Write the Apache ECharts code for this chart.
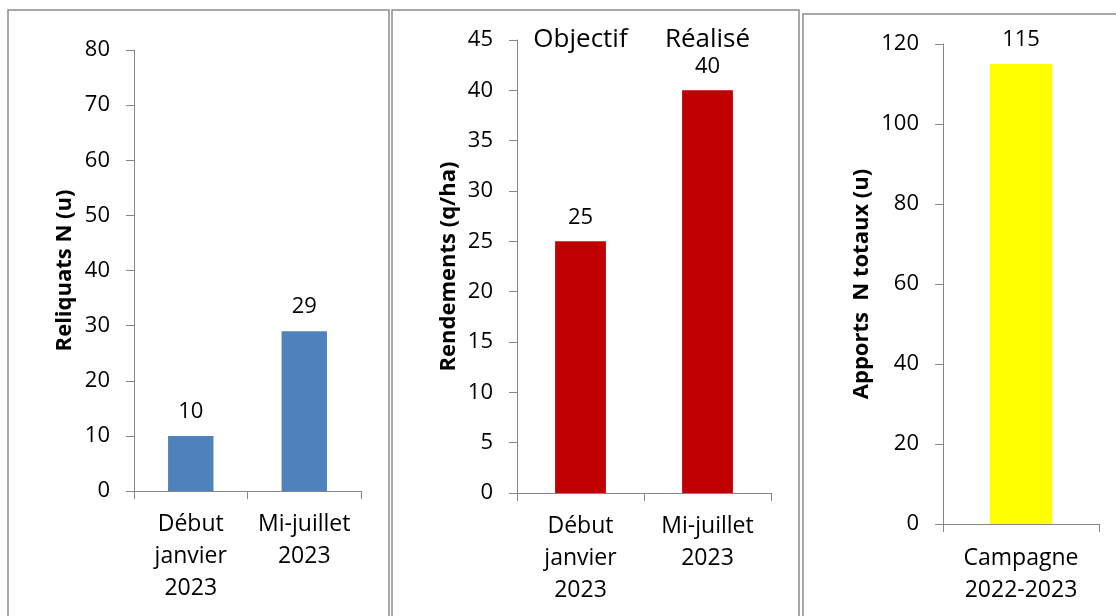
<!DOCTYPE html>
<html>
<head>
<meta charset="utf-8">
<script src="https://cdn.jsdelivr.net/npm/echarts@6/dist/echarts.min.js"></script>
<style>
html,body{margin:0;padding:0;background:#fff;}
#c{width:1116px;height:616px;}
</style>
</head>
<body>
<div id="c"></div>
<script>
// ---- data ----
const reliquatsCategories = ['Début\njanvier\n2023', 'Mi-juillet\n2023'];
const reliquatsValues = [10, 29];
const reliquatsName = 'Reliquats N (u)';
const reliquatsTicks = {min: 0, max: 80, interval: 10};

const rendementsCategories = ['Début\njanvier\n2023', 'Mi-juillet\n2023'];
const rendementsValues = [25, 40];
const rendementsNotes = ['Objectif', 'Réalisé'];
const rendementsName = 'Rendements (q/ha)';
const rendementsTicks = {min: 0, max: 45, interval: 5};

const apportsCategories = ['Campagne\n2022-2023'];
const apportsValues = [115];
const apportsName = 'Apports  N totaux (u)';
const apportsTicks = {min: 0, max: 120, interval: 20};

// ---- style ----
const FONT = 'Open Sans';
const AXIS_COLOR = '#868686';
const BORDER_COLOR = '#8c8c8c';

function xAxisCfg(idx, cats, margin) {
  return {
    type: 'category', gridIndex: idx, data: cats,
    axisLine: {show: true, lineStyle: {color: AXIS_COLOR, width: 1}},
    axisTick: {show: true, length: 8, lineStyle: {color: AXIS_COLOR}},
    axisLabel: {color: '#000', fontFamily: FONT, fontSize: 23, lineHeight: 32, margin: margin, interval: 0}
  };
}
function yAxisCfg(idx, t, name, gap) {
  return {
    type: 'value', gridIndex: idx, min: t.min, max: t.max, interval: t.interval,
    name: name, nameLocation: 'middle', nameGap: gap,
    nameTextStyle: {color: '#000', fontFamily: FONT, fontSize: 22, fontWeight: 'bold'},
    axisLine: {show: true, lineStyle: {color: AXIS_COLOR, width: 1}},
    axisTick: {show: true, length: 8, lineStyle: {color: AXIS_COLOR}},
    splitLine: {show: false},
    axisLabel: {color: '#000', fontFamily: FONT, fontSize: 22, margin: 24}
  };
}
function barLabel() {
  return {show: true, position: 'top', distance: 13, color: '#000', fontFamily: FONT, fontSize: 22};
}

const chart = echarts.init(document.getElementById('c'), null, {renderer: 'canvas'});
chart.setOption({
  animation: false,
  backgroundColor: '#fff',
  grid: [
    {left: 134, right: 1116 - 361, top: 50, bottom: 616 - 491},
    {left: 517, right: 1116 - 771, top: 40, bottom: 616 - 493},
    {left: 943, right: 1116 - 1099, top: 44, bottom: 616 - 524}
  ],
  xAxis: [
    xAxisCfg(0, reliquatsCategories, 17),
    xAxisCfg(1, rendementsCategories, 17),
    xAxisCfg(2, apportsCategories, 18)
  ],
  yAxis: [
    yAxisCfg(0, reliquatsTicks, reliquatsName, 58),
    yAxisCfg(1, rendementsTicks, rendementsName, 57),
    yAxisCfg(2, apportsTicks, apportsName, 70)
  ],
  graphic: [
    {type: 'rect', shape: {x: 8, y: 10, width: 381, height: 700}, style: {fill: 'none', stroke: BORDER_COLOR, lineWidth: 1.5}, silent: true},
    {type: 'rect', shape: {x: 392, y: 10, width: 407, height: 700}, style: {fill: 'none', stroke: BORDER_COLOR, lineWidth: 1.5}, silent: true},
    {type: 'rect', shape: {x: 803, y: 14, width: 400, height: 700}, style: {fill: 'none', stroke: BORDER_COLOR, lineWidth: 1.5}, silent: true}
  ],
  series: [
    {type: 'bar', xAxisIndex: 0, yAxisIndex: 0, data: reliquatsValues, barWidth: '40%',
     itemStyle: {color: '#4F81BD'}, label: barLabel()},
    {type: 'bar', xAxisIndex: 1, yAxisIndex: 1, data: rendementsValues, barWidth: '40%',
     itemStyle: {color: '#C00000'}, label: barLabel(),
     markPoint: {
       symbol: 'rect', symbolSize: 0,
       label: {show: true, position: 'inside', formatter: p => p.name, color: '#000', fontFamily: FONT, fontSize: 26},
       data: rendementsNotes.map((n, i) => ({name: n, coord: [i, rendementsTicks.max]}))
     }},
    {type: 'bar', xAxisIndex: 2, yAxisIndex: 2, data: apportsValues, barWidth: '40%',
     itemStyle: {color: '#FFFF00'}, label: barLabel()}
  ]
});
</script>
</body>
</html>
